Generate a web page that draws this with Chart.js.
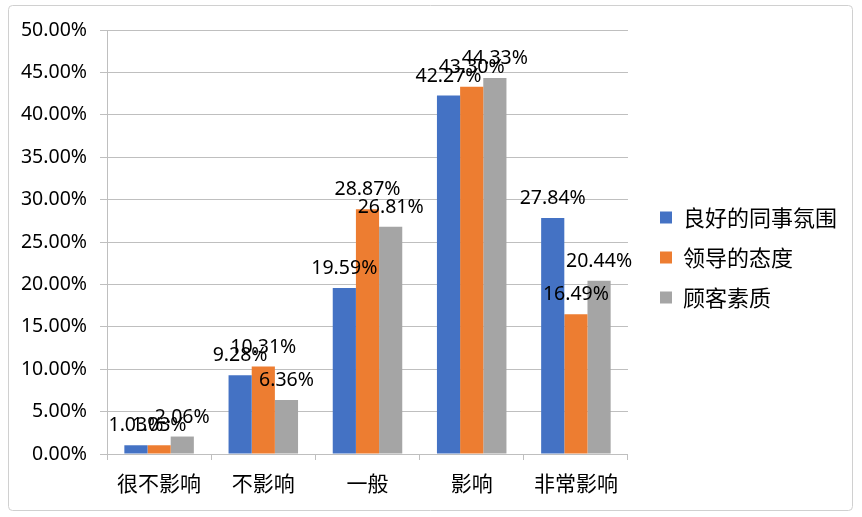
<!DOCTYPE html>
<html>
<head>
<meta charset="utf-8">
<script src="https://cdn.jsdelivr.net/npm/chart.js@4/dist/chart.umd.min.js"></script>
<style>
  html, body { margin: 0; padding: 0; background: #fff; }
  #wrap { width: 862px; height: 517px; }
</style>
</head>
<body>
<div id="wrap"><canvas id="bars"></canvas></div>
<script>
const categories = ['很不影响', '不影响', '一般', '影响', '非常影响'];
const seriesNames = ['良好的同事氛围', '领导的态度', '顾客素质'];
const colleagues = [1.03, 9.28, 19.59, 42.27, 27.84];
const leaders = [1.03, 10.31, 28.87, 43.30, 16.49];
const customers = [2.06, 6.36, 26.81, 44.33, 20.44];
const colors = ['#4472C4', '#ED7D31', '#A5A5A5'];

const numFont = '"Noto Sans", "Noto Sans CJK SC", sans-serif';
const cjkFont = '"Noto Sans CJK SC", "Noto Sans", sans-serif';

// white page + thin rounded frame
const frame = {
  id: 'frame',
  beforeDraw(chart) {
    const c = chart.ctx;
    c.save();
    c.fillStyle = '#fff';
    c.fillRect(0, 0, chart.width, chart.height);
    c.strokeStyle = '#d0d0d0';
    c.lineWidth = 1;
    c.beginPath();
    c.roundRect(8.5, 5.5, 844, 505, 4);
    c.stroke();
    c.restore();
  }
};

// move the legend a bit right and up, away from the plot
const legendNudge = {
  id: 'legendNudge',
  afterLayout(chart) {
    const l = chart.legend;
    if (!l) return;
    l.left += 14; l.right += 14;
    l.top -= 16; l.bottom -= 16;
  }
};

// value labels above each bar
const valueLabels = {
  id: 'valueLabels',
  afterDatasetsDraw(chart) {
    const c = chart.ctx;
    c.save();
    c.font = '19.5px ' + numFont;
    c.fillStyle = '#000';
    c.textAlign = 'center';
    c.textBaseline = 'alphabetic';
    chart.data.datasets.forEach((ds, i) => {
      chart.getDatasetMeta(i).data.forEach((bar, j) => {
        c.fillText(ds.data[j].toFixed(2) + '%', bar.x, bar.y - 14);
      });
    });
    c.restore();
  }
};

new Chart(document.getElementById('bars'), {
  type: 'bar',
  data: {
    labels: categories,
    datasets: [colleagues, leaders, customers].map((d, i) => ({
      label: seriesNames[i],
      data: d,
      backgroundColor: colors[i],
      borderWidth: 0,
      categoryPercentage: 0.667,
      barPercentage: 1
    }))
  },
  options: {
    responsive: true,
    maintainAspectRatio: false,
    animation: false,
    layout: { padding: { top: 30, right: 29, bottom: 0, left: 0 } },
    plugins: {
      tooltip: { enabled: false },
      legend: {
        position: 'right',
        labels: {
          boxWidth: 12,
          boxHeight: 12,
          padding: 18,
          color: '#000',
          font: { family: cjkFont, size: 22 }
        }
      }
    },
    scales: {
      x: {
        grid: { drawOnChartArea: false, tickLength: 6, color: '#bfbfbf' },
        border: { color: '#bfbfbf' },
        ticks: { color: '#000', padding: 10, font: { family: cjkFont, size: 21 } },
        afterFit(s) { s.height = 63; }
      },
      y: {
        min: 0,
        max: 50,
        grid: { color: '#bfbfbf', tickLength: 7 },
        border: { color: '#bfbfbf' },
        ticks: {
          stepSize: 5,
          padding: 13,
          color: '#000',
          font: { family: numFont, size: 19.5 },
          callback: v => v.toFixed(2) + '%'
        },
        afterFit(s) { s.width = 107; }
      }
    }
  },
  plugins: [frame, legendNudge, valueLabels]
});
</script>
</body>
</html>
